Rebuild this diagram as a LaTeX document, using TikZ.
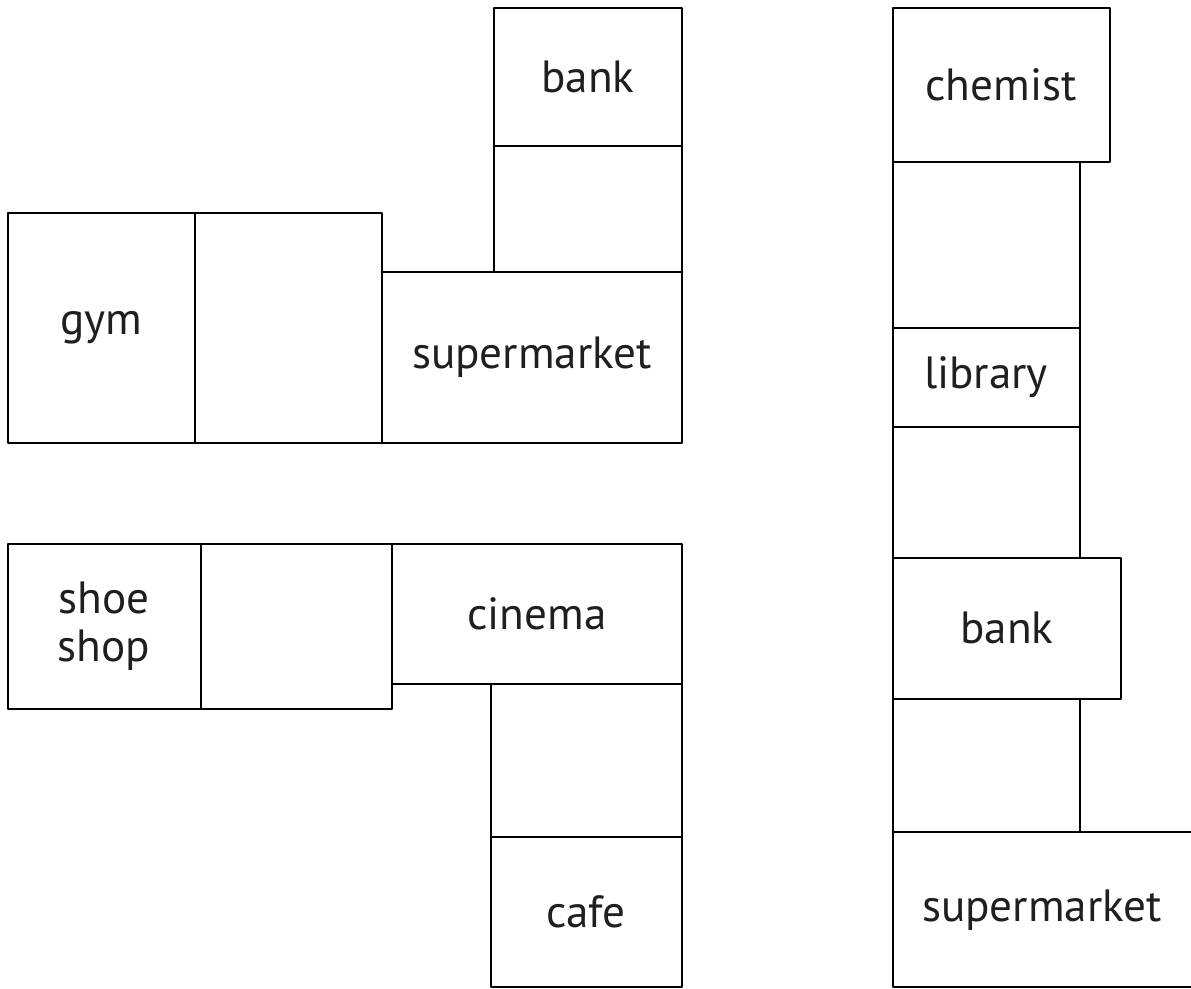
\documentclass[tikz,border=0pt]{standalone}
\usepackage{fontspec}
\setmainfont{PT Sans}
\begin{document}
\begin{tikzpicture}[x=0.02cm, y=-0.02cm, line join=round, line width=1.4pt]
	\tikzset{shop/.style={font=\fontsize{25.7}{27}\selectfont, align=center, inner sep=0pt, text=black!88}}
	\useasboundingbox (0,0) rectangle (1191,988);
	%Top left block
	\draw (8,213) rectangle (195,443);
	\draw (195,213) rectangle (382,443);
	\draw (382,272) rectangle (682,443);
	\draw (494,146) rectangle (682,272);
	\draw (494,8) rectangle (682,146);
	\node[shop] (bank1) at (588,77) {bank};
	\node[shop] (gym) at (101,328) {gym};
	\node[shop] (super1) at (532,357) {supermarket};
	%Bottom left block
	\draw (8,544) rectangle (201,709);
	\draw (201,544) rectangle (392,709);
	\draw (392,544) rectangle (682,684);
	\draw (491,684) rectangle (682,837);
	\draw (491,837) rectangle (682,987);
	\node[shop] (shoe) at (104,626) {shoe\\shop};
	\node[shop] (cinema) at (537,614) {cinema};
	\node[shop] (cafe) at (586,912) {cafe};
	%Right street
	\draw (893,8) rectangle (1110,162);
	\foreach \a/\b in {162/328,328/427,427/558,699/832}
		\draw (893,\a) rectangle (1080,\b);
	\draw (893,558) rectangle (1121,699);
	\draw (1191,832) -| (893,987) -- (1191,987);
	\node[shop] (chemist) at (1001,85) {chemist};
	\node[shop] (library) at (986,377) {library};
	\node[shop] (bank2) at (1007,628) {bank};
	\node[shop] (super2) at (1042,910) {supermarket};
\end{tikzpicture}
\end{document}
